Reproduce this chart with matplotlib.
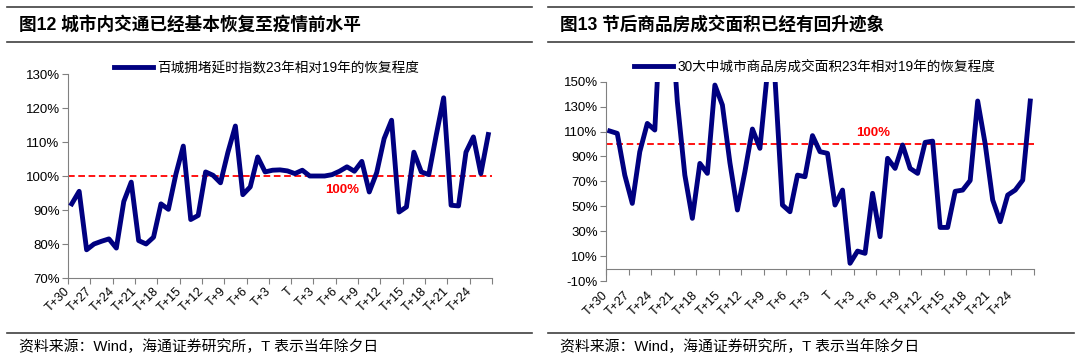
import matplotlib
matplotlib.use('Agg')
import matplotlib.pyplot as plt
from matplotlib.lines import Line2D
import numpy as np

plt.rcParams['font.family'] = ['Liberation Sans', 'Noto Sans CJK SC', 'DejaVu Sans']

# x categories: 57 days around the Spring Festival, labels every 3 days
tick_labels = ['T+30', 'T+27', 'T+24', 'T+21', 'T+18', 'T+15', 'T+12', 'T+9', 'T+6', 'T+3',
               'T', 'T+3', 'T+6', 'T+9', 'T+12', 'T+15', 'T+18', 'T+21', 'T+24']

# 百城拥堵延时指数 23年相对19年 (%)
traffic = [91.8, 95.5, 78.3, 80.0, 80.8, 81.5, 78.8, 92.5, 98.2, 81.0,
           80.0, 82.0, 91.8, 90.2, 100.5, 108.8, 87.2, 88.4, 101.2, 100.2,
           98.0, 107.0, 114.7, 94.5, 96.8, 105.6, 101.2, 101.7, 101.8, 101.5,
           100.7, 101.7, 100.0, 100.0, 100.0, 100.4, 101.4, 102.7, 101.4, 104.3,
           95.3, 101.0, 111.0, 116.4, 89.4, 90.9, 107.0, 101.2, 100.4, 112.0,
           123.0, 91.4, 91.2, 107.0, 111.5, 100.7, 112.2]

# 30大中城市商品房成交面积 23年相对19年 (%)
housing = [110.4, 108.5, 75.0, 52.3, 93.8, 116.5, 111.2, 230.0, 220.0, 134.0,
           75.0, 40.3, 84.4, 76.4, 147.3, 131.3, 85.0, 47.0, 77.8, 112.0,
           96.5, 158.0, 153.0, 51.0, 45.6, 75.0, 73.7, 106.7, 93.8, 92.5,
           51.0, 63.0, 4.2, 14.0, 12.2, 60.4, 25.6, 88.5, 80.4, 99.2,
           80.4, 76.4, 101.3, 102.3, 33.0, 33.0, 62.0, 63.0, 70.7, 134.5,
           100.0, 55.0, 37.6, 59.0, 63.0, 71.0, 134.5]

left_yticks = [70, 80, 90, 100, 110, 120, 130]
right_yticks = [-10, 10, 30, 50, 70, 90, 110, 130, 150]

W, H = 1080, 362
NAVY = '#000080'
GRAY = '#808080'
RULE = '#404040'


def rect(x0, y0, x1, y1):
    return [x0 / W, 1 - y1 / H, (x1 - x0) / W, (y1 - y0) / H]


fig = plt.figure(figsize=(W / 100, H / 100), dpi=100)

# header / footer rules and texts
for x0, x1 in [(7, 532), (548, 1074)]:
    for y in [7, 42, 333]:
        fig.add_artist(Line2D([x0 / W, x1 / W], [1 - y / H, 1 - y / H],
                              transform=fig.transFigure, color=RULE, lw=1.2))
fig.text(19 / W, 1 - 25 / H, '图12 城市内交通已经基本恢复至疫情前水平',
         fontsize=12.7, fontweight='bold', va='center')
fig.text(560 / W, 1 - 25 / H, '图13 节后商品房成交面积已经有回升迹象',
         fontsize=12.7, fontweight='bold', va='center')
src = '资料来源：Wind，海通证券研究所，T 表示当年除夕日'
fig.text(19 / W, 1 - 347 / H, src, fontsize=10.7, va='center')
fig.text(560 / W, 1 - 347 / H, src, fontsize=10.7, va='center')

x = np.arange(len(traffic))
ticks = np.arange(-0.5, len(traffic) + 0.5, 3)
labels = tick_labels + [''] * (len(ticks) - len(tick_labels))

ax1 = fig.add_axes(rect(68, 74, 492, 278))
ax2 = fig.add_axes(rect(606, 81.7, 1034, 281))

for ax, yt in [(ax1, left_yticks), (ax2, right_yticks)]:
    ax.set_xlim(-0.5, len(traffic) - 0.5)
    ax.set_ylim(yt[0], yt[-1])
    ax.set_yticks(yt)
    ax.set_yticklabels([f'{v}%' for v in yt])
    ax.spines['top'].set_visible(False)
    ax.spines['right'].set_visible(False)
    ax.spines['left'].set_color(GRAY)
    ax.spines['bottom'].set_color(GRAY)
    ax.tick_params(axis='y', direction='out', length=4, width=0.8, color=GRAY,
                   labelsize=9.5, pad=2)
    ax.axhline(100, color='red', lw=1.3, ls=(0, (3.7, 2)), zorder=2)

ax1.set_xticks(ticks, labels, rotation=45, ha='right', va='center',
               rotation_mode='anchor')
ax1.tick_params(axis='x', direction='out', length=4, width=0.8, color=GRAY,
                labelsize=9, pad=4)
ax1.plot(x, traffic, color=NAVY, lw=3.5, solid_joinstyle='round', zorder=3,
         label='百城拥堵延时指数23年相对19年的恢复程度')
ax1.annotate('100%', xy=(36.3, 100), xytext=(0, -10.3), textcoords='offset points',
             ha='center', va='center', color='red', fontsize=9.5, fontweight='bold')

# right chart: category axis crosses at 0%, labels stay at the bottom
ax2.spines['bottom'].set_visible(False)
ax2.set_xticks(ticks, labels, rotation=45, ha='right', va='center',
               rotation_mode='anchor')
ax2.tick_params(axis='x', length=0, labelsize=9, pad=9)
sec = ax2.secondary_xaxis(10 / 160)
sec.set_xticks(ticks)
sec.tick_params(axis='x', direction='out', length=4, width=0.8, color=GRAY,
                labelbottom=False)
sec.spines['bottom'].set_color(GRAY)
ax2.plot(x, housing, color=NAVY, lw=3.5, solid_joinstyle='round', zorder=3,
         label='30大中城市商品房成交面积23年相对19年的恢复程度')
ax2.annotate('100%', xy=(35.05, 100), xytext=(0, 8), textcoords='offset points',
             ha='center', va='center', color='red', fontsize=9.5, fontweight='bold')

for ax, lx, ly in [(ax1, 114, 68), (ax2, 634, 67)]:
    ax.legend(loc='center left', bbox_to_anchor=(lx / W, 1 - ly / H),
              bbox_transform=fig.transFigure, frameon=False, fontsize=9.8,
              handlelength=2.9, handletextpad=0.3, borderpad=0, borderaxespad=0)

fig.savefig('out.png', dpi=100)
